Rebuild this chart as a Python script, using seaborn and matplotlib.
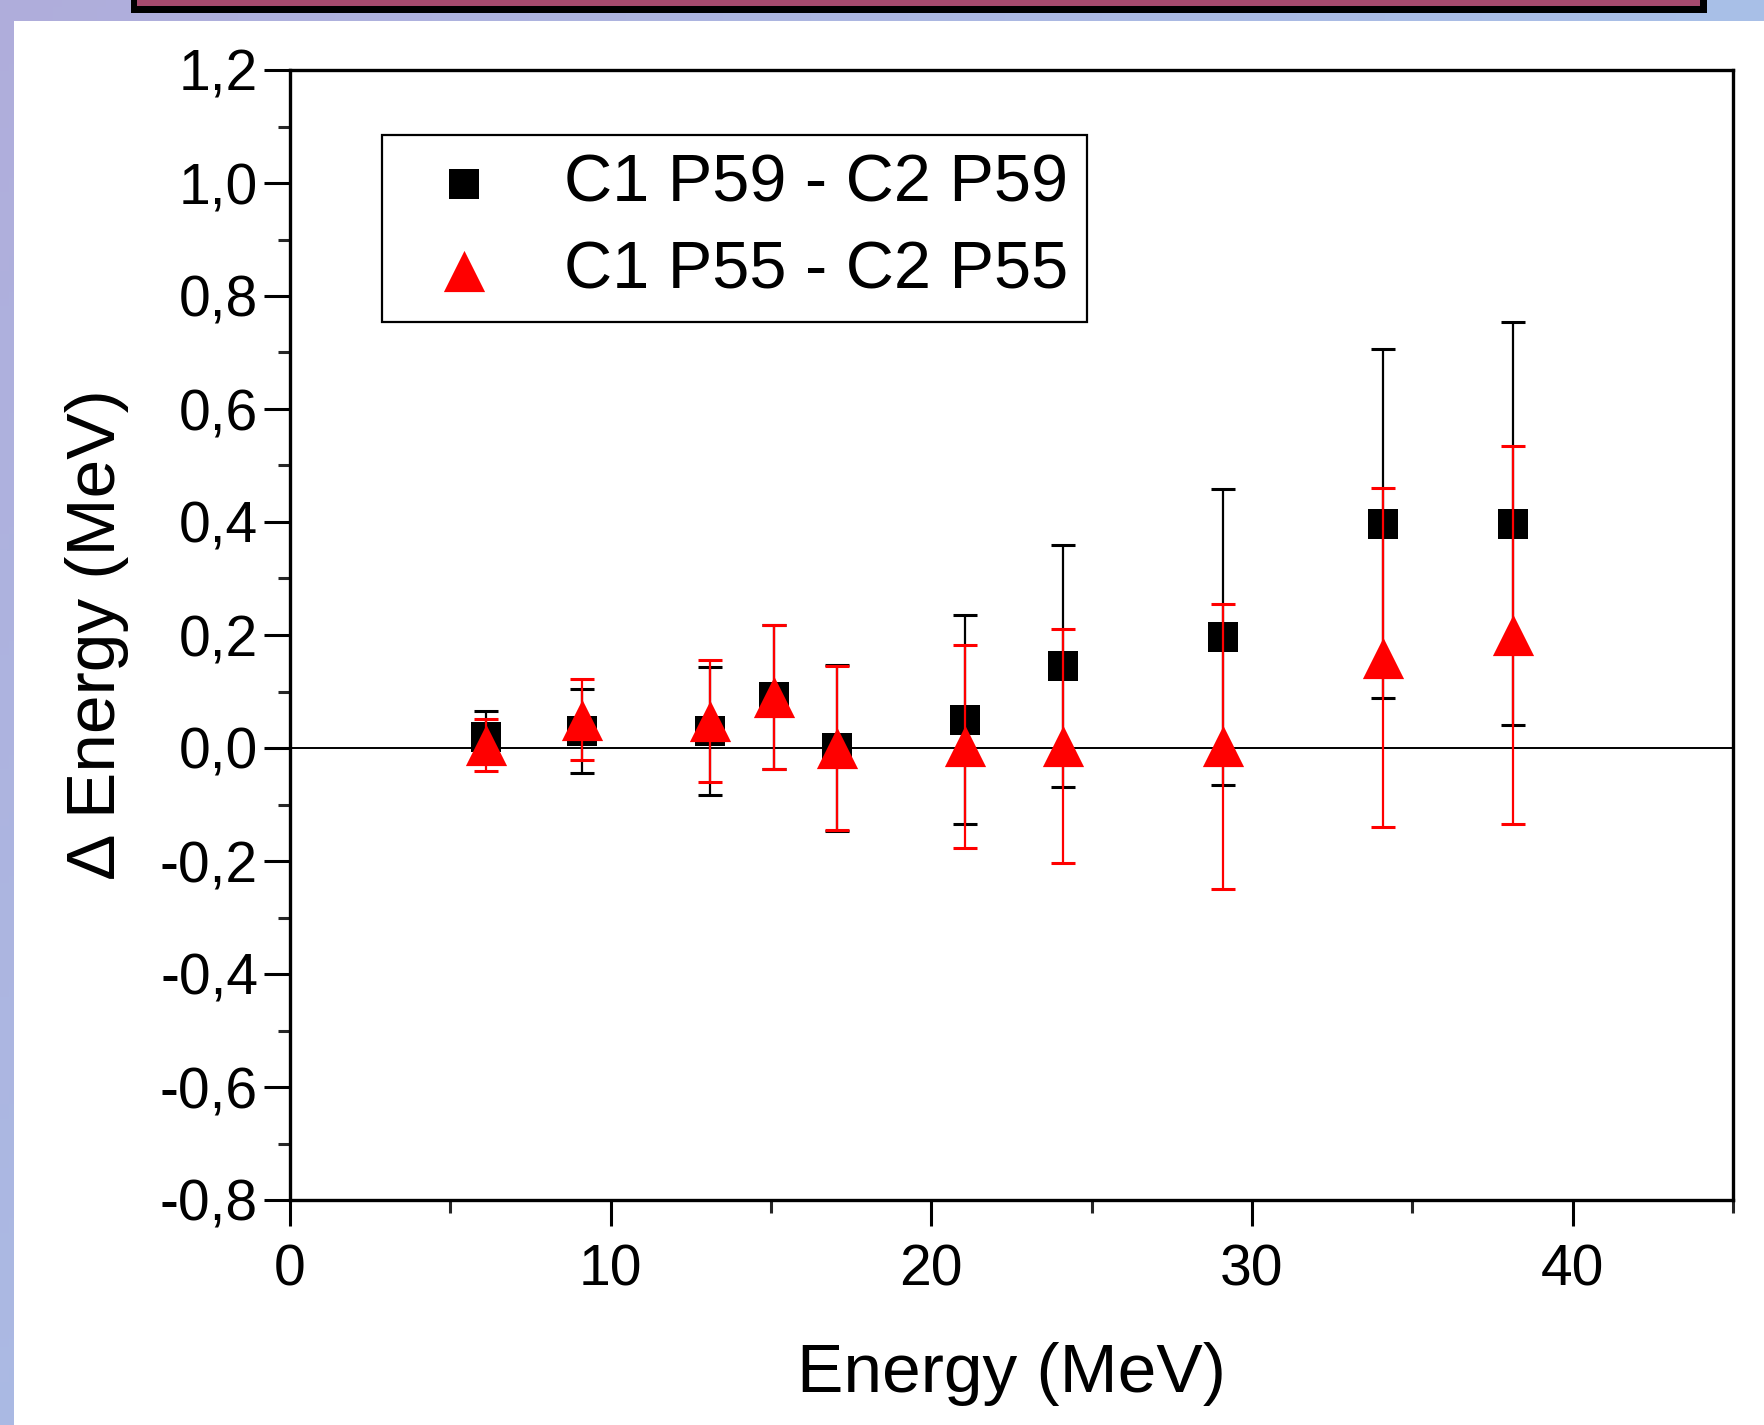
import numpy as np
import pandas as pd
import matplotlib
matplotlib.use("Agg")
import matplotlib.pyplot as plt
import matplotlib.ticker as mticker
from matplotlib.patches import Rectangle
import seaborn as sns

# ==============================
# Data
# ==============================
energy = [6.1, 9.1, 13.1, 15.1, 17.05, 21.05, 24.1, 29.1, 34.1, 38.15]

p59 = [0.02, 0.03, 0.03, 0.09, 0.0, 0.05, 0.145, 0.197, 0.397, 0.397]
p59_err = [0.045, 0.075, 0.113, 0.128, 0.147, 0.185, 0.214, 0.262, 0.309, 0.357]

p55 = [0.005, 0.05, 0.047, 0.09, 0.0, 0.003, 0.003, 0.003, 0.16, 0.2]
p55_err = [0.046, 0.072, 0.108, 0.128, 0.145, 0.18, 0.207, 0.252, 0.3, 0.334]

labels = ["C1 P59 - C2 P59", "C1 P55 - C2 P55"]
y_ticks = [-0.8, -0.6, -0.4, -0.2, 0.0, 0.2, 0.4, 0.6, 0.8, 1.0, 1.2]
x_ticks = [0, 10, 20, 30, 40]

df = pd.DataFrame({
    "energy": energy * 2,
    "delta": p59 + p55,
    "err": p59_err + p55_err,
    "series": [labels[0]] * len(energy) + [labels[1]] * len(energy),
})

# ==============================
# Style
# ==============================
sns.set_theme(style="ticks")
plt.rcParams["font.family"] = ["Liberation Sans", "DejaVu Sans"]
plt.rcParams["text.color"] = "black"
plt.rcParams["axes.labelcolor"] = "black"

W, H = 1764, 1425
fig = plt.figure(figsize=(W / 100, H / 100), dpi=100)

# slide background: gradient strip on top and left, white panel
bg = fig.add_axes([0, 0, 1, 1], zorder=-10)
gx, gy = np.meshgrid(np.linspace(0, 1, 200), np.linspace(0, 1, 200))
t = 0.6 * gx + 0.4 * gy
c0 = np.array([0.69, 0.68, 0.86])
c1 = np.array([0.64, 0.80, 0.94])
img = c0[None, None, :] * (1 - t[..., None]) + c1[None, None, :] * t[..., None]
bg.imshow(img, extent=[0, 1, 0, 1], aspect="auto", origin="upper")
bg.add_patch(Rectangle((14 / W, 0), 1, 1 - 21 / H, color="white", lw=0))
# title box fragment at top
bg.add_patch(Rectangle((131 / W, 1 - 12.5 / H), (1707 - 131) / W, 12.5 / H,
                       color="black", lw=0))
bg.add_patch(Rectangle((137 / W, 1 - 5.5 / H), (1700 - 137) / W, 5.5 / H,
                       color="#a64a6e", lw=0))
bg.set_xlim(0, 1)
bg.set_ylim(0, 1)
bg.axis("off")

ax = fig.add_axes([290 / W, 225 / H, (1733 - 290) / W, (1200 - 70) / H])

colors = {labels[0]: "black", labels[1]: "#ff0000"}
markers = {labels[0]: "s", labels[1]: "^"}
sizes = {labels[0]: 470, labels[1]: 880}

ax.axhline(0, color="black", lw=1.4, zorder=1)

for i, name in enumerate(labels):
    sub = df[df["series"] == name]
    ax.errorbar(sub["energy"], sub["delta"], yerr=sub["err"], fmt="none",
                ecolor=colors[name], elinewidth=1.6, capsize=8.5, capthick=2.2,
                zorder=2 + 2 * i)
    sns.scatterplot(data=sub, x="energy", y="delta", marker=markers[name],
                    color=colors[name], s=sizes[name], linewidth=0,
                    label=name, ax=ax, zorder=3 + 2 * i)

ax.set_xlim(0, 45)
ax.set_ylim(-0.8, 1.2)
ax.set_xticks(x_ticks)
ax.set_yticks(y_ticks)
ax.xaxis.set_minor_locator(mticker.MultipleLocator(5))
ax.yaxis.set_minor_locator(mticker.MultipleLocator(0.1))
ax.yaxis.set_major_formatter(
    mticker.FuncFormatter(lambda v, p: f"{v:.1f}".replace(".", ",").replace("-0,0", "0,0")))

ax.tick_params(which="major", direction="out", length=19, width=2.2,
               labelsize=41, pad=4, colors="black")
ax.tick_params(which="minor", direction="out", length=9, width=2.2)
ax.tick_params(axis="x", which="major", pad=12)

for s in ax.spines.values():
    s.set_visible(True)
    s.set_color("black")
    s.set_linewidth(2.4)

ax.set_xlabel("Energy (MeV)", fontsize=50, labelpad=32)
ax.set_ylabel("\u0394 Energy (MeV)", fontsize=50, labelpad=22)

leg = ax.legend(loc="upper left", bbox_to_anchor=(0.064, 0.9425),
                borderaxespad=0, frameon=True, fancybox=False,
                edgecolor="black", framealpha=1, fontsize=48,
                handletextpad=0.55, labelspacing=0.38, borderpad=0.28,
                handlelength=1.9, markerscale=1.0)
leg.get_frame().set_linewidth(1.6)

fig.savefig("out.png", dpi=100)
